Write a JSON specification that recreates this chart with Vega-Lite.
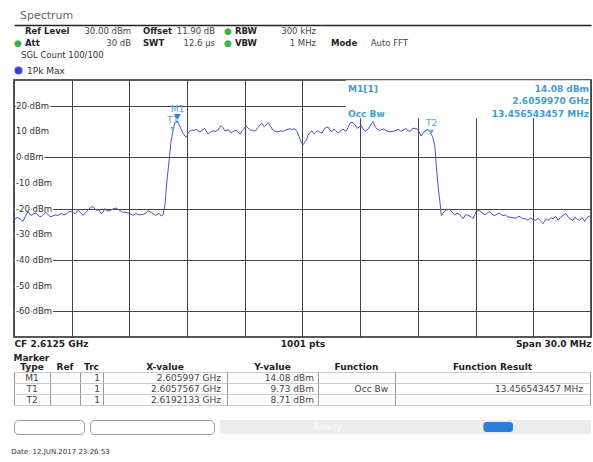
{
  "$schema": "https://vega.github.io/schema/vega-lite/v6.json",
  "padding": {"left": 11, "top": 10, "right": 4, "bottom": 4},
  "background": "white",
  "config": {
    "font": "DejaVu Sans",
    "view": {"stroke": "#222", "strokeWidth": 1.5}
  },
  "resolve": {"scale": {"color": "independent"}, "legend": {"color": "independent"}},
  "title": {"text": "Date: 12.JUN.2017  23:26:53", "orient": "bottom", "anchor": "start", "fontSize": 7, "fontWeight": "normal", "color": "#333", "offset": 13},
  "datasets": {
    "settings": [
      {"line": "1", "group": "level", "label": "Ref Level", "value": "30.00 dBm", "auto": false},
      {"line": "1", "group": "offset", "label": "Offset", "value": "11.90 dB", "auto": false},
      {"line": "1", "group": "bw", "label": "RBW", "value": "300 kHz", "auto": true},
      {"line": "2", "group": "level", "label": "Att", "value": "30 dB", "auto": true},
      {"line": "2", "group": "offset", "label": "SWT", "value": "12.6 µs", "auto": false},
      {"line": "2", "group": "bw", "label": "VBW", "value": "1 MHz", "auto": true},
      {"line": "2", "group": "mode", "label": "Mode", "value": "Auto FFT", "auto": false},
      {"line": "3", "group": "level", "label": "SGL Count 100/100", "value": "", "auto": false}
    ],
    "ylabels": [
      {"level": 20, "label": "20 dBm"}, {"level": 10, "label": "10 dBm"}, {"level": 0, "label": "0 dBm"},
      {"level": -10, "label": "-10 dBm"}, {"level": -20, "label": "-20 dBm"}, {"level": -30, "label": "-30 dBm"},
      {"level": -40, "label": "-40 dBm"}, {"level": -50, "label": "-50 dBm"}, {"level": -60, "label": "-60 dBm"}
    ],
    "markers": [
      {"Type": "M1", "Ref": "", "Trc": "1", "X-value": "2.605997 GHz", "Y-value": "14.08 dBm", "Function": "", "Function Result": "", "freq": 2.605997, "level": 14.08},
      {"Type": "T1", "Ref": "", "Trc": "1", "X-value": "2.6057567 GHz", "Y-value": "9.73 dBm", "Function": "Occ Bw", "Function Result": "13.456543457 MHz", "freq": 2.6057567, "level": 9.73},
      {"Type": "T2", "Ref": "", "Trc": "1", "X-value": "2.6192133 GHz", "Y-value": "8.71 dBm", "Function": "", "Function Result": "", "freq": 2.6192133, "level": 8.71}
    ],
    "status": [
      {"state": "Ready", "progress_start": 0.71, "progress_end": 0.79}
    ],
    "trace": [
      {"freq":2.5975,"level":-24.6},{"freq":2.597656,"level":-23.5},{"freq":2.597812,"level":-24.0},{"freq":2.597968,"level":-25.0},{"freq":2.598124,"level":-22.5},{"freq":2.598228,"level":-21.3},{"freq":2.598384,"level":-22.7},{"freq":2.59854,"level":-22.0},{"freq":2.598644,"level":-21.8},{"freq":2.5988,"level":-23.0},{"freq":2.598904,"level":-23.2},{"freq":2.59906,"level":-22.0},{"freq":2.599164,"level":-21.5},{"freq":2.59932,"level":-22.8},{"freq":2.599424,"level":-23.2},{"freq":2.599632,"level":-22.5},{"freq":2.599788,"level":-22.7},{"freq":2.599944,"level":-22.0},{"freq":2.600152,"level":-22.5},{"freq":2.600308,"level":-21.5},{"freq":2.600464,"level":-21.1},{"freq":2.600672,"level":-22.0},{"freq":2.600828,"level":-20.7},{"freq":2.600984,"level":-21.8},{"freq":2.601088,"level":-22.7},{"freq":2.601244,"level":-21.5},{"freq":2.601348,"level":-20.5},{"freq":2.601504,"level":-19.6},{"freq":2.601607,"level":-19.2},{"freq":2.601763,"level":-20.7},{"freq":2.601919,"level":-20.5},{"freq":2.602023,"level":-22.0},{"freq":2.602127,"level":-21.5},{"freq":2.602231,"level":-20.0},{"freq":2.602335,"level":-21.0},{"freq":2.602491,"level":-20.8},{"freq":2.602647,"level":-20.2},{"freq":2.602803,"level":-19.8},{"freq":2.602907,"level":-20.3},{"freq":2.603063,"level":-21.0},{"freq":2.603167,"level":-21.5},{"freq":2.603323,"level":-21.5},{"freq":2.603479,"level":-21.8},{"freq":2.603687,"level":-22.6},{"freq":2.603843,"level":-22.0},{"freq":2.603999,"level":-22.5},{"freq":2.604207,"level":-22.3},{"freq":2.604363,"level":-21.8},{"freq":2.604467,"level":-20.8},{"freq":2.604623,"level":-21.5},{"freq":2.604779,"level":-22.3},{"freq":2.604883,"level":-22.7},{"freq":2.605039,"level":-21.8},{"freq":2.605143,"level":-22.9},{"freq":2.605247,"level":-22.5},{"freq":2.605299,"level":-20.5},{"freq":2.605351,"level":-18.5},{"freq":2.605403,"level":-13.5},{"freq":2.605455,"level":-9.0},{"freq":2.605507,"level":-5.5},{"freq":2.605559,"level":-1.5},{"freq":2.605611,"level":2.0},{"freq":2.605663,"level":6.0},{"freq":2.605715,"level":8.0},{"freq":2.6057567,"level":9.73},{"freq":2.605819,"level":12.2},{"freq":2.605871,"level":13.2},{"freq":2.605923,"level":13.8},{"freq":2.605997,"level":14.08},{"freq":2.606027,"level":13.6},{"freq":2.606079,"level":12.5},{"freq":2.606183,"level":11.0},{"freq":2.606287,"level":9.3},{"freq":2.606391,"level":8.2},{"freq":2.606469,"level":7.8},{"freq":2.606547,"level":9.2},{"freq":2.606651,"level":10.2},{"freq":2.606755,"level":10.5},{"freq":2.606859,"level":10.3},{"freq":2.606963,"level":10.9},{"freq":2.607067,"level":10.2},{"freq":2.607171,"level":9.8},{"freq":2.607275,"level":10.4},{"freq":2.607415,"level":11.2},{"freq":2.607483,"level":10.3},{"freq":2.607587,"level":8.9},{"freq":2.607691,"level":9.6},{"freq":2.607847,"level":10.2},{"freq":2.607951,"level":10.0},{"freq":2.608107,"level":10.5},{"freq":2.608263,"level":12.3},{"freq":2.608367,"level":11.5},{"freq":2.608471,"level":10.1},{"freq":2.608575,"level":10.6},{"freq":2.608679,"level":10.5},{"freq":2.608783,"level":9.4},{"freq":2.608939,"level":10.2},{"freq":2.609043,"level":10.4},{"freq":2.609147,"level":9.8},{"freq":2.609251,"level":8.9},{"freq":2.609354,"level":10.2},{"freq":2.609458,"level":11.0},{"freq":2.609562,"level":12.2},{"freq":2.609666,"level":11.3},{"freq":2.609822,"level":10.4},{"freq":2.609926,"level":10.5},{"freq":2.61003,"level":10.0},{"freq":2.610186,"level":11.5},{"freq":2.61029,"level":12.5},{"freq":2.610394,"level":13.2},{"freq":2.610498,"level":11.8},{"freq":2.610602,"level":12.5},{"freq":2.610706,"level":13.4},{"freq":2.61081,"level":12.2},{"freq":2.610966,"level":10.5},{"freq":2.61107,"level":10.0},{"freq":2.611226,"level":9.9},{"freq":2.611382,"level":10.2},{"freq":2.611486,"level":10.0},{"freq":2.611642,"level":10.6},{"freq":2.611798,"level":11.0},{"freq":2.611954,"level":10.8},{"freq":2.61211,"level":11.0},{"freq":2.612214,"level":10.0},{"freq":2.612318,"level":8.0},{"freq":2.612422,"level":5.9},{"freq":2.612526,"level":4.8},{"freq":2.61263,"level":6.0},{"freq":2.612708,"level":6.7},{"freq":2.612786,"level":8.5},{"freq":2.61289,"level":9.6},{"freq":2.612994,"level":10.2},{"freq":2.613098,"level":9.0},{"freq":2.613202,"level":9.8},{"freq":2.613306,"level":10.3},{"freq":2.61341,"level":9.6},{"freq":2.613514,"level":9.4},{"freq":2.613618,"level":10.8},{"freq":2.613722,"level":11.5},{"freq":2.613826,"level":11.7},{"freq":2.61393,"level":10.5},{"freq":2.614034,"level":9.9},{"freq":2.614138,"level":11.0},{"freq":2.614242,"level":10.2},{"freq":2.614346,"level":9.3},{"freq":2.61445,"level":10.0},{"freq":2.614606,"level":10.9},{"freq":2.614762,"level":10.0},{"freq":2.614866,"level":11.5},{"freq":2.61497,"level":13.2},{"freq":2.615074,"level":13.6},{"freq":2.61523,"level":12.6},{"freq":2.615334,"level":11.2},{"freq":2.615438,"level":11.6},{"freq":2.615542,"level":12.4},{"freq":2.615646,"level":11.0},{"freq":2.61575,"level":10.0},{"freq":2.615906,"level":10.9},{"freq":2.616062,"level":12.7},{"freq":2.616166,"level":13.8},{"freq":2.61627,"level":12.0},{"freq":2.616374,"level":10.8},{"freq":2.61653,"level":10.4},{"freq":2.616686,"level":11.0},{"freq":2.616842,"level":10.3},{"freq":2.616997,"level":9.9},{"freq":2.617205,"level":10.0},{"freq":2.617361,"level":10.4},{"freq":2.617465,"level":10.9},{"freq":2.617621,"level":10.0},{"freq":2.617777,"level":10.6},{"freq":2.617881,"level":11.2},{"freq":2.617985,"level":10.3},{"freq":2.618089,"level":10.0},{"freq":2.618245,"level":11.3},{"freq":2.618401,"level":11.0},{"freq":2.618505,"level":10.8},{"freq":2.618661,"level":8.2},{"freq":2.618765,"level":9.3},{"freq":2.618869,"level":10.2},{"freq":2.619025,"level":10.8},{"freq":2.619129,"level":9.8},{"freq":2.6192133,"level":8.71},{"freq":2.619285,"level":7.5},{"freq":2.619373,"level":4.7},{"freq":2.619441,"level":-2.0},{"freq":2.619493,"level":-6.5},{"freq":2.619545,"level":-10.9},{"freq":2.619597,"level":-14.5},{"freq":2.619649,"level":-17.5},{"freq":2.619717,"level":-22.7},{"freq":2.619805,"level":-21.8},{"freq":2.619893,"level":-21.0},{"freq":2.620013,"level":-20.5},{"freq":2.620153,"level":-20.3},{"freq":2.620273,"level":-21.5},{"freq":2.620413,"level":-22.5},{"freq":2.620533,"level":-21.8},{"freq":2.620674,"level":-22.3},{"freq":2.620845,"level":-24.0},{"freq":2.621001,"level":-22.3},{"freq":2.621105,"level":-22.7},{"freq":2.621261,"level":-23.2},{"freq":2.621365,"level":-24.0},{"freq":2.621505,"level":-21.5},{"freq":2.621625,"level":-20.8},{"freq":2.621729,"level":-21.0},{"freq":2.621885,"level":-22.0},{"freq":2.621989,"level":-22.5},{"freq":2.622145,"level":-21.5},{"freq":2.622249,"level":-21.3},{"freq":2.622405,"level":-22.5},{"freq":2.622509,"level":-22.7},{"freq":2.622665,"level":-21.9},{"freq":2.622769,"level":-22.0},{"freq":2.622925,"level":-22.8},{"freq":2.623029,"level":-22.5},{"freq":2.623185,"level":-23.3},{"freq":2.623289,"level":-23.4},{"freq":2.623445,"level":-23.5},{"freq":2.623601,"level":-23.8},{"freq":2.623757,"level":-23.0},{"freq":2.623965,"level":-24.0},{"freq":2.62412,"level":-24.0},{"freq":2.624224,"level":-24.6},{"freq":2.62438,"level":-23.5},{"freq":2.624484,"level":-24.6},{"freq":2.62464,"level":-24.5},{"freq":2.624744,"level":-23.8},{"freq":2.6249,"level":-25.0},{"freq":2.625004,"level":-25.9},{"freq":2.62516,"level":-24.0},{"freq":2.625264,"level":-24.6},{"freq":2.62542,"level":-23.6},{"freq":2.625524,"level":-24.0},{"freq":2.62568,"level":-23.0},{"freq":2.625784,"level":-24.6},{"freq":2.62594,"level":-23.2},{"freq":2.626044,"level":-22.7},{"freq":2.6262,"level":-22.0},{"freq":2.626304,"level":-23.2},{"freq":2.626408,"level":-24.0},{"freq":2.626564,"level":-24.6},{"freq":2.626668,"level":-23.3},{"freq":2.626736,"level":-24.0},{"freq":2.626913,"level":-24.6},{"freq":2.627032,"level":-23.5},{"freq":2.627173,"level":-25.0},{"freq":2.627292,"level":-23.5},{"freq":2.627432,"level":-22.9},{"freq":2.6275,"level":-23.5}
    ]
  },
  "spacing": 4,
  "vconcat": [
    {
      "title": {"text": "Spectrum", "anchor": "start", "fontSize": 11, "fontWeight": "normal", "color": "#666", "dx": 6, "offset": 4},
      "data": {"name": "settings"},
      "spacing": 0,
      "bounds": "flush",
      "hconcat": [
        {
          "width": 126, "height": 36,
          "view": {"stroke": null},
          "transform": [{"filter": "datum.group == 'level'"}],
          "layer": [
            {
              "transform": [{"filter": "datum.line != '3'"}],
              "mark": {"type": "text", "align": "left", "baseline": "middle", "fontWeight": "bold", "fontSize": 8.5, "color": "#222"},
              "encoding": {
                "x": {"datum": 0, "type": "quantitative", "scale": {"domain": [-0.1038, 1.0849], "nice": false, "zero": false}, "axis": {"orient": "top", "labels": false, "ticks": false, "title": null, "domain": true, "domainColor": "#222", "domainWidth": 1.5, "grid": false}},
                "y": {"field": "line", "type": "ordinal", "scale": {"domain": ["1", "2", "3"]}, "axis": null},
                "text": {"field": "label"}
              }
            },
            {
              "transform": [{"filter": "datum.line != '3'"}],
              "mark": {"type": "text", "align": "right", "baseline": "middle", "fontSize": 8.5, "color": "#444"},
              "encoding": {
                "x": {"datum": 1, "type": "quantitative"},
                "y": {"field": "line", "type": "ordinal"},
                "text": {"field": "value"}
              }
            },
            {
              "transform": [{"filter": "datum.auto"}],
              "mark": {"type": "text", "align": "center", "baseline": "middle", "dx": -7, "fontSize": 9, "color": "#3cb44b"},
              "encoding": {
                "x": {"datum": 0, "type": "quantitative"},
                "y": {"field": "line", "type": "ordinal"},
                "text": {"value": "●"}
              }
            },
            {
              "transform": [{"filter": "datum.line == '3'"}],
              "mark": {"type": "text", "align": "left", "baseline": "middle", "dx": -4, "fontSize": 8.5, "color": "#333"},
              "encoding": {
                "x": {"datum": 0, "type": "quantitative"},
                "y": {"field": "line", "type": "ordinal"},
                "text": {"field": "label"}
              }
            }
          ]
        },
        {
          "width": 85, "height": 36,
          "view": {"stroke": null},
          "transform": [{"filter": "datum.group == 'offset'"}],
          "layer": [
            {
              "mark": {"type": "text", "align": "left", "baseline": "middle", "fontWeight": "bold", "fontSize": 8.5, "color": "#222"},
              "encoding": {
                "x": {"datum": 0, "type": "quantitative", "scale": {"domain": [-0.0417, 1.1389], "nice": false, "zero": false}, "axis": {"orient": "top", "labels": false, "ticks": false, "title": null, "domain": true, "domainColor": "#222", "domainWidth": 1.5, "grid": false}},
                "y": {"field": "line", "type": "ordinal", "scale": {"domain": ["1", "2", "3"]}, "axis": null},
                "text": {"field": "label"}
              }
            },
            {
              "mark": {"type": "text", "align": "right", "baseline": "middle", "fontSize": 8.5, "color": "#444"},
              "encoding": {
                "x": {"datum": 1, "type": "quantitative"},
                "y": {"field": "line", "type": "ordinal"},
                "text": {"field": "value"}
              }
            }
          ]
        },
        {
          "width": 96, "height": 36,
          "view": {"stroke": null},
          "transform": [{"filter": "datum.group == 'bw'"}],
          "layer": [
            {
              "mark": {"type": "text", "align": "left", "baseline": "middle", "fontWeight": "bold", "fontSize": 8.5, "color": "#222"},
              "encoding": {
                "x": {"datum": 0, "type": "quantitative", "scale": {"domain": [-0.1235, 1.0617], "nice": false, "zero": false}, "axis": {"orient": "top", "labels": false, "ticks": false, "title": null, "domain": true, "domainColor": "#222", "domainWidth": 1.5, "grid": false}},
                "y": {"field": "line", "type": "ordinal", "scale": {"domain": ["1", "2", "3"]}, "axis": null},
                "text": {"field": "label"}
              }
            },
            {
              "mark": {"type": "text", "align": "right", "baseline": "middle", "fontSize": 8.5, "color": "#444"},
              "encoding": {
                "x": {"datum": 1, "type": "quantitative"},
                "y": {"field": "line", "type": "ordinal"},
                "text": {"field": "value"}
              }
            },
            {
              "transform": [{"filter": "datum.auto"}],
              "mark": {"type": "text", "align": "center", "baseline": "middle", "dx": -7, "fontSize": 9, "color": "#3cb44b"},
              "encoding": {
                "x": {"datum": 0, "type": "quantitative"},
                "y": {"field": "line", "type": "ordinal"},
                "text": {"value": "●"}
              }
            }
          ]
        },
        {
          "width": 270, "height": 36,
          "view": {"stroke": null},
          "transform": [{"filter": "datum.group == 'mode'"}],
          "layer": [
            {
              "mark": {"type": "text", "align": "left", "baseline": "middle", "fontWeight": "bold", "fontSize": 8.5, "color": "#222"},
              "encoding": {
                "x": {"datum": 0, "type": "quantitative", "scale": {"domain": [-0.1299, 3.3766], "nice": false, "zero": false}, "axis": {"orient": "top", "labels": false, "ticks": false, "title": null, "domain": true, "domainColor": "#222", "domainWidth": 1.5, "grid": false}},
                "y": {"field": "line", "type": "ordinal", "scale": {"domain": ["1", "2", "3"]}, "axis": null},
                "text": {"field": "label"}
              }
            },
            {
              "mark": {"type": "text", "align": "right", "baseline": "middle", "fontSize": 8.5, "color": "#444"},
              "encoding": {
                "x": {"datum": 1, "type": "quantitative"},
                "y": {"field": "line", "type": "ordinal"},
                "text": {"field": "value"}
              }
            }
          ]
        }
      ]
    },
    {
      "width": 577,
      "height": 257,
      "layer": [
        {
          "data": {"name": "ylabels"},
          "mark": {"type": "text", "align": "left", "baseline": "middle", "dx": 2, "fontSize": 8.5, "fill": "white", "stroke": "white", "strokeWidth": 3},
          "encoding": {
            "x": {"datum": 2.5975, "type": "quantitative"},
            "y": {"field": "level", "type": "quantitative"},
            "text": {"field": "label"}
          }
        },
        {
          "data": {"name": "ylabels"},
          "mark": {"type": "text", "align": "left", "baseline": "middle", "dx": 2, "fontSize": 8.5, "color": "#333"},
          "encoding": {
            "x": {"datum": 2.5975, "type": "quantitative"},
            "y": {"field": "level", "type": "quantitative"},
            "text": {"field": "label"}
          }
        },
        {
          "data": {"name": "trace"},
          "mark": {"type": "line", "strokeWidth": 1},
          "encoding": {
            "x": {
              "field": "freq", "type": "quantitative",
              "scale": {"domain": [2.5975, 2.6275], "nice": false, "zero": false},
              "axis": {
                "title": null,
                "values": [2.5975, 2.6005, 2.6035, 2.6065, 2.6095, 2.6125, 2.6155, 2.6185, 2.6215, 2.6245, 2.6275],
                "grid": true, "gridColor": "#444", "gridOpacity": 1, "gridWidth": 1,
                "domain": false, "ticks": false,
                "labelExpr": "abs(datum.value - 2.5975) < 0.000001 ? 'CF 2.6125 GHz' : abs(datum.value - 2.6125) < 0.000001 ? '1001 pts' : abs(datum.value - 2.6275) < 0.000001 ? 'Span 30.0 MHz' : ''",
                "labelFontWeight": "bold", "labelFontSize": 9, "labelColor": "#222", "labelPadding": 2,
                "labelFlush": true, "labelOverlap": false
              }
            },
            "y": {
              "field": "level", "type": "quantitative",
              "scale": {"domain": [-70, 30], "nice": false, "zero": false},
              "axis": {"title": null, "values": [-60, -50, -40, -30, -20, -10, 0, 10, 20], "grid": true, "gridColor": "#444", "gridOpacity": 1, "gridWidth": 1, "labels": false, "ticks": false, "domain": false}
            },
            "color": {
              "datum": "1Pk Max", "type": "nominal",
              "scale": {"range": ["#4b55c9"]},
              "legend": {"orient": "top", "title": null, "symbolType": "circle", "symbolSize": 45, "symbolFillColor": "#2a3fd8", "symbolStrokeColor": "#333", "labelFontSize": 9, "labelColor": "#333", "offset": 3, "padding": 0}
            }
          }
        },
        {
          "data": {"values": [{"box": "marker readout"}]},
          "mark": {"type": "rect", "fill": "white"},
          "encoding": {
            "x": {"datum": 2.61475, "type": "quantitative"},
            "x2": {"datum": 2.62745},
            "y": {"datum": 29.9, "type": "quantitative"},
            "y2": {"datum": 15.1}
          }
        },
        {
          "data": {"values": [{"box": "marker readout"}]},
          "mark": {"type": "text", "align": "left", "baseline": "top", "fontWeight": "bold", "fontSize": 9, "color": "#3a9fd3"},
          "encoding": {
            "x": {"datum": 2.61487, "type": "quantitative"},
            "y": {"datum": 28.2, "type": "quantitative"},
            "text": {"value": "M1[1]"}
          }
        },
        {
          "data": {"values": [{"box": "marker readout"}]},
          "mark": {"type": "text", "align": "left", "baseline": "top", "fontWeight": "bold", "fontSize": 9, "color": "#3a9fd3"},
          "encoding": {
            "x": {"datum": 2.61487, "type": "quantitative"},
            "y": {"datum": 18.5, "type": "quantitative"},
            "text": {"value": "Occ Bw"}
          }
        },
        {
          "data": {"values": [{"box": "marker readout"}]},
          "mark": {"type": "text", "align": "right", "baseline": "top", "dx": -2, "lineHeight": 12.5, "fontWeight": "bold", "fontSize": 9, "color": "#3a9fd3"},
          "encoding": {
            "x": {"datum": 2.6275, "type": "quantitative"},
            "y": {"datum": 28.2, "type": "quantitative"},
            "text": {"value": ["14.08 dBm", "2.6059970 GHz", "13.456543457 MHz"]}
          }
        },
        {
          "data": {"name": "markers"},
          "mark": {"type": "text", "align": "center", "baseline": "middle", "dy": -12, "fontSize": 9, "color": "#4aa8d8"},
          "encoding": {
            "x": {"field": "freq", "type": "quantitative"},
            "y": {"field": "level", "type": "quantitative"},
            "text": {"field": "Type"}
          }
        },
        {
          "data": {"name": "markers"},
          "transform": [{"filter": "datum.Type != 'M1'"}],
          "mark": {"type": "point", "shape": "triangle-down", "filled": true, "size": 22, "color": "#5ab8e0", "opacity": 1, "yOffset": -3},
          "encoding": {
            "x": {"field": "freq", "type": "quantitative"},
            "y": {"field": "level", "type": "quantitative"}
          }
        },
        {
          "data": {"name": "markers"},
          "transform": [{"filter": "datum.Type == 'M1'"}],
          "mark": {"type": "point", "shape": "triangle-down", "filled": true, "size": 45, "color": "#1a8ad0", "opacity": 1, "yOffset": -4},
          "encoding": {
            "x": {"field": "freq", "type": "quantitative"},
            "y": {"field": "level", "type": "quantitative"}
          }
        }
      ]
    },
    {
      "title": {"text": "Marker", "anchor": "start", "fontSize": 9, "fontWeight": "bold", "color": "#222", "offset": 0},
      "data": {"name": "markers"},
      "spacing": 0,
      "bounds": "flush",
      "hconcat": [
        {
          "width": 36, "height": 33,
          "view": {"stroke": "#999", "strokeWidth": 1},
          "title": {"text": "Type", "fontSize": 9, "fontWeight": "bold", "color": "#222", "anchor": "middle", "offset": 0},
          "mark": {"type": "text", "align": "center", "fontSize": 9, "color": "#444"},
          "encoding": {
            "y": {"field": "Type", "type": "nominal", "sort": null, "axis": {"grid": true, "gridColor": "#ccc", "tickBand": "extent", "labels": false, "ticks": false, "domain": false, "title": null}},
            "text": {"field": "Type"}
          }
        },
        {
          "width": 30, "height": 33,
          "view": {"stroke": "#999", "strokeWidth": 1},
          "title": {"text": "Ref", "fontSize": 9, "fontWeight": "bold", "color": "#222", "anchor": "middle", "offset": 0},
          "mark": {"type": "text", "align": "center", "fontSize": 9, "color": "#444"},
          "encoding": {
            "y": {"field": "Type", "type": "nominal", "sort": null, "axis": {"grid": true, "gridColor": "#ccc", "tickBand": "extent", "labels": false, "ticks": false, "domain": false, "title": null}},
            "text": {"field": "Ref"}
          }
        },
        {
          "width": 23, "height": 33,
          "view": {"stroke": "#999", "strokeWidth": 1},
          "title": {"text": "Trc", "fontSize": 9, "fontWeight": "bold", "color": "#222", "anchor": "middle", "offset": 0},
          "mark": {"type": "text", "align": "right", "dx": -3, "fontSize": 9, "color": "#444"},
          "encoding": {
            "x": {"value": "width"},
            "y": {"field": "Type", "type": "nominal", "sort": null, "axis": {"grid": true, "gridColor": "#ccc", "tickBand": "extent", "labels": false, "ticks": false, "domain": false, "title": null}},
            "text": {"field": "Trc"}
          }
        },
        {
          "width": 124, "height": 33,
          "view": {"stroke": "#999", "strokeWidth": 1},
          "title": {"text": "X-value", "fontSize": 9, "fontWeight": "bold", "color": "#222", "anchor": "middle", "offset": 0},
          "mark": {"type": "text", "align": "right", "dx": -6, "fontSize": 9, "color": "#444"},
          "encoding": {
            "x": {"value": "width"},
            "y": {"field": "Type", "type": "nominal", "sort": null, "axis": {"grid": true, "gridColor": "#ccc", "tickBand": "extent", "labels": false, "ticks": false, "domain": false, "title": null}},
            "text": {"field": "X-value"}
          }
        },
        {
          "width": 91, "height": 33,
          "view": {"stroke": "#999", "strokeWidth": 1},
          "title": {"text": "Y-value", "fontSize": 9, "fontWeight": "bold", "color": "#222", "anchor": "middle", "offset": 0},
          "mark": {"type": "text", "align": "right", "dx": -4, "fontSize": 9, "color": "#444"},
          "encoding": {
            "x": {"value": "width"},
            "y": {"field": "Type", "type": "nominal", "sort": null, "axis": {"grid": true, "gridColor": "#ccc", "tickBand": "extent", "labels": false, "ticks": false, "domain": false, "title": null}},
            "text": {"field": "Y-value"}
          }
        },
        {
          "width": 77, "height": 33,
          "view": {"stroke": "#999", "strokeWidth": 1},
          "title": {"text": "Function", "fontSize": 9, "fontWeight": "bold", "color": "#222", "anchor": "middle", "offset": 0},
          "mark": {"type": "text", "align": "right", "dx": -7, "fontSize": 9, "color": "#444"},
          "encoding": {
            "x": {"value": "width"},
            "y": {"field": "Type", "type": "nominal", "sort": null, "axis": {"grid": true, "gridColor": "#ccc", "tickBand": "extent", "labels": false, "ticks": false, "domain": false, "title": null}},
            "text": {"field": "Function"}
          }
        },
        {
          "width": 195, "height": 33,
          "view": {"stroke": "#999", "strokeWidth": 1},
          "title": {"text": "Function Result", "fontSize": 9, "fontWeight": "bold", "color": "#222", "anchor": "middle", "offset": 0},
          "mark": {"type": "text", "align": "right", "dx": -7, "fontSize": 9, "color": "#444"},
          "encoding": {
            "x": {"value": "width"},
            "y": {"field": "Type", "type": "nominal", "sort": null, "axis": {"grid": true, "gridColor": "#ccc", "tickBand": "extent", "labels": false, "ticks": false, "domain": false, "title": null}},
            "text": {"field": "Function Result"}
          }
        }
      ]
    },
    {
      "title": {"text": " ", "fontSize": 9, "offset": 0},
      "data": {"name": "status"},
      "spacing": 6,
      "bounds": "flush",
      "hconcat": [
        {
          "width": 70, "height": 14,
          "view": {"stroke": "#999", "strokeWidth": 1, "cornerRadius": 4, "fill": "white"},
          "mark": {"type": "text"},
          "encoding": {"text": {"value": ""}}
        },
        {
          "width": 124, "height": 14,
          "view": {"stroke": "#999", "strokeWidth": 1, "cornerRadius": 4, "fill": "white"},
          "mark": {"type": "text"},
          "encoding": {"text": {"value": ""}}
        },
        {
          "width": 371, "height": 14,
          "view": {"stroke": null, "fill": "#ececec"},
          "layer": [
            {
              "mark": {"type": "text", "align": "center", "baseline": "middle", "fontSize": 9, "color": "#fafafa"},
              "encoding": {
                "x": {"datum": 0.29, "type": "quantitative", "scale": {"domain": [0, 1], "nice": false}, "axis": null},
                "text": {"field": "state"}
              }
            },
            {
              "mark": {"type": "rect", "color": "#2b7fdc", "cornerRadius": 3},
              "encoding": {
                "x": {"field": "progress_start", "type": "quantitative"},
                "x2": {"field": "progress_end"},
                "y": {"datum": 0.15, "type": "quantitative", "scale": {"domain": [0, 1]}, "axis": null},
                "y2": {"datum": 0.85}
              }
            }
          ]
        }
      ]
    }
  ]
}
